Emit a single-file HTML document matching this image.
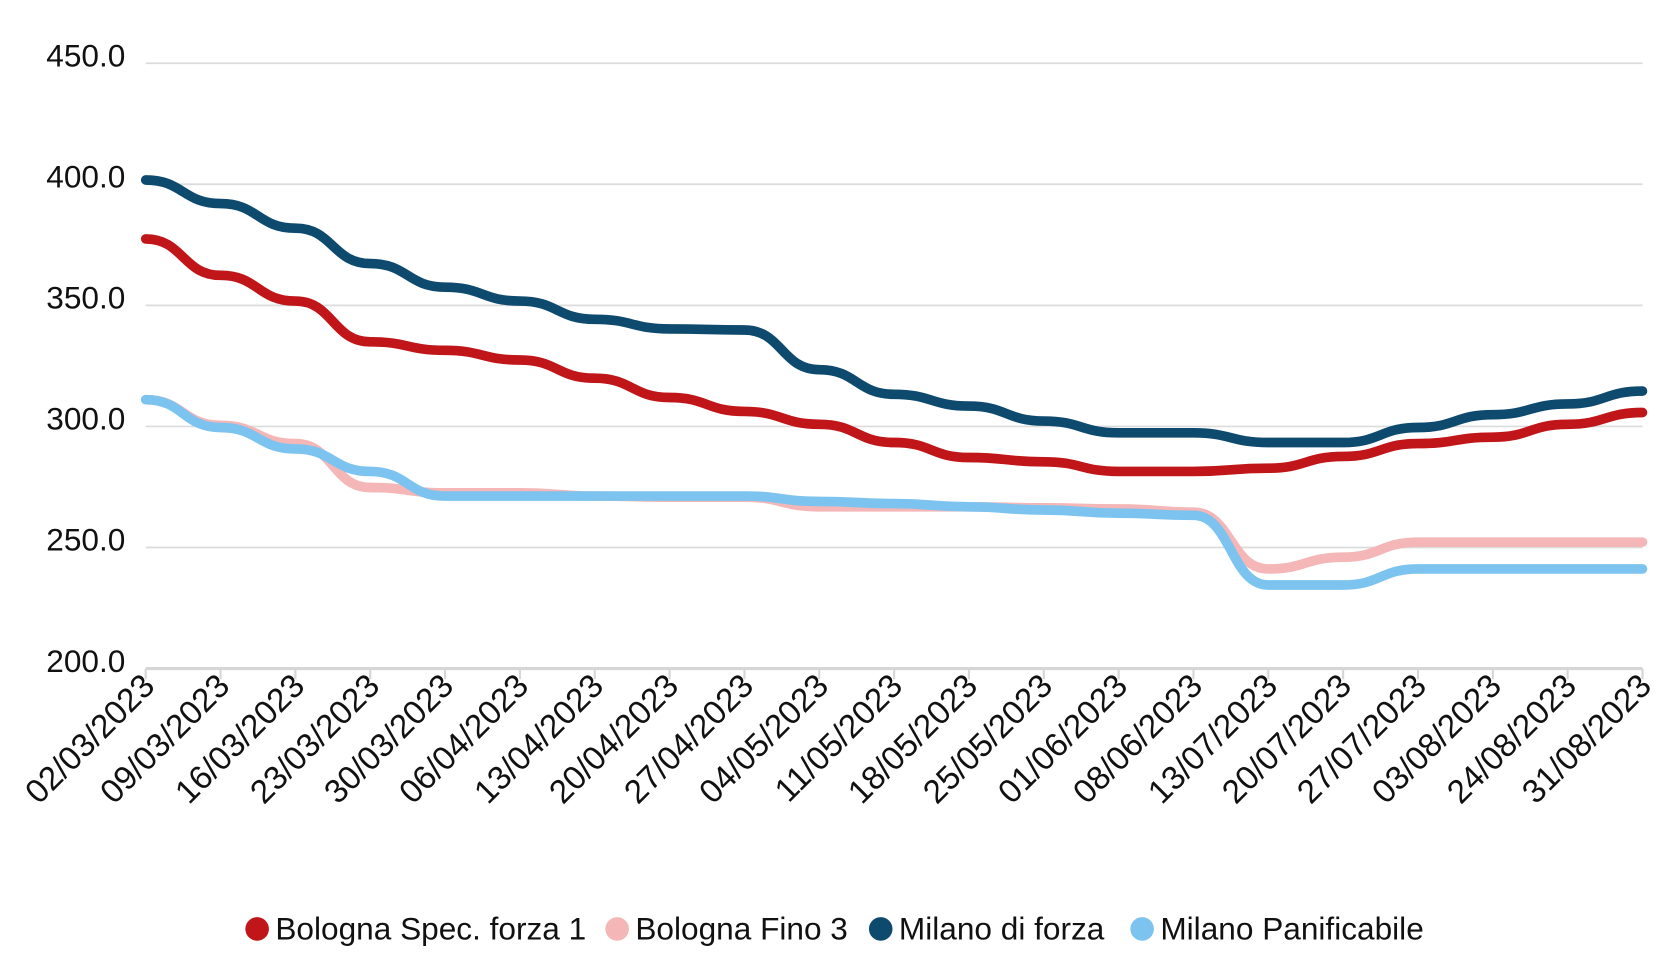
<!DOCTYPE html>
<html><head><meta charset="utf-8"><style>
html,body{margin:0;padding:0;background:#fff;}
svg{display:block;font-family:"Liberation Sans",Arial,sans-serif;}
</style></head><body>
<svg id="c" width="1680" height="960" viewBox="0 0 1568 896" xmlns="http://www.w3.org/2000/svg">
<g stroke="#dcdcdc" stroke-width="1.6">
<line x1="136" y1="59" x2="1533" y2="59"/>
<line x1="136" y1="172" x2="1533" y2="172"/>
<line x1="136" y1="285" x2="1533" y2="285"/>
<line x1="136" y1="398" x2="1533" y2="398"/>
<line x1="136" y1="511" x2="1533" y2="511"/>
</g>
<line x1="136" y1="624" x2="1533" y2="624" stroke="#d6d6d6" stroke-width="3"/>
<g id="ticks" stroke="#d6d6d6" stroke-width="2"></g>
<g font-size="29.5" fill="#111" text-anchor="end">
<text x="117" y="62">450.0</text>
<text x="117" y="175">400.0</text>
<text x="117" y="288">350.0</text>
<text x="117" y="401">300.0</text>
<text x="117" y="514">250.0</text>
<text x="117" y="627">200.0</text>
</g>
<g id="paths" fill="none" stroke-width="9" stroke-linecap="round"></g>
<g font-size="31" fill="#111" text-anchor="end">
<text transform="translate(146,642) rotate(-45)">02/03/2023</text>
<text transform="translate(216,642) rotate(-45)">09/03/2023</text>
<text transform="translate(286,642) rotate(-45)">16/03/2023</text>
<text transform="translate(356,642) rotate(-45)">23/03/2023</text>
<text transform="translate(425,642) rotate(-45)">30/03/2023</text>
<text transform="translate(495,642) rotate(-45)">06/04/2023</text>
<text transform="translate(565,642) rotate(-45)">13/04/2023</text>
<text transform="translate(635,642) rotate(-45)">20/04/2023</text>
<text transform="translate(705,642) rotate(-45)">27/04/2023</text>
<text transform="translate(775,642) rotate(-45)">04/05/2023</text>
<text transform="translate(844,642) rotate(-45)">11/05/2023</text>
<text transform="translate(914,642) rotate(-45)">18/05/2023</text>
<text transform="translate(984,642) rotate(-45)">25/05/2023</text>
<text transform="translate(1054,642) rotate(-45)">01/06/2023</text>
<text transform="translate(1124,642) rotate(-45)">08/06/2023</text>
<text transform="translate(1194,642) rotate(-45)">13/07/2023</text>
<text transform="translate(1263,642) rotate(-45)">20/07/2023</text>
<text transform="translate(1333,642) rotate(-45)">27/07/2023</text>
<text transform="translate(1403,642) rotate(-45)">03/08/2023</text>
<text transform="translate(1473,642) rotate(-45)">24/08/2023</text>
<text transform="translate(1543,642) rotate(-45)">31/08/2023</text>
</g>
<g font-size="29.5" fill="#111">
<circle cx="240" cy="867" r="11" fill="#c0161a"/><text x="257" y="877">Bologna Spec. forza 1</text>
<circle cx="576" cy="867" r="11" fill="#f4b6b6"/><text x="593" y="877">Bologna Fino 3</text>
<circle cx="822" cy="867" r="11" fill="#0e4a6e"/><text x="839" y="877">Milano di forza</text>
<circle cx="1066" cy="867" r="11" fill="#7cc4ef"/><text x="1083" y="877">Milano Panificabile</text>
</g>
</svg>
<script>
var d=69.85,ns="http://www.w3.org/2000/svg";
var S=[
["#f4b6b6",[373,397,414,455,460,460,463,464,464,473,473,473,474,475,478,531,520,506,506,506,506]],
["#7cc4ef",[373,399,419,440,463,463,463,463,463,468,470,473,476,479,481,546,546,531,531,531,531]],
["#c0161a",[223,257,281,319,327,336,353,371,384,396,413,427,431,440,440,437,426,414,408,396,385]],
["#0e4a6e",[168,190,213,246,268,281,298,307,308,345,368,379,393,404,404,413,413,399,387,377,365]]];
var g=document.getElementById("paths"),t=document.getElementById("ticks");
for(var i=0;i<21;i++){var l=document.createElementNS(ns,"line");var x=136+i*d;l.setAttribute("x1",x);l.setAttribute("x2",x);l.setAttribute("y1",624);l.setAttribute("y2",634);t.appendChild(l);}
S.forEach(function(s){var y=s[1],p="M136 "+y[0];for(var i=0;i<20;i++){var x0=136+i*d,x1=x0+d;p+=" C"+(x0+d/2)+" "+y[i]+" "+(x1-d/2)+" "+y[i+1]+" "+x1+" "+y[i+1];}
var e=document.createElementNS(ns,"path");e.setAttribute("d",p);e.setAttribute("stroke",s[0]);g.appendChild(e);});
</script>
</body></html>
